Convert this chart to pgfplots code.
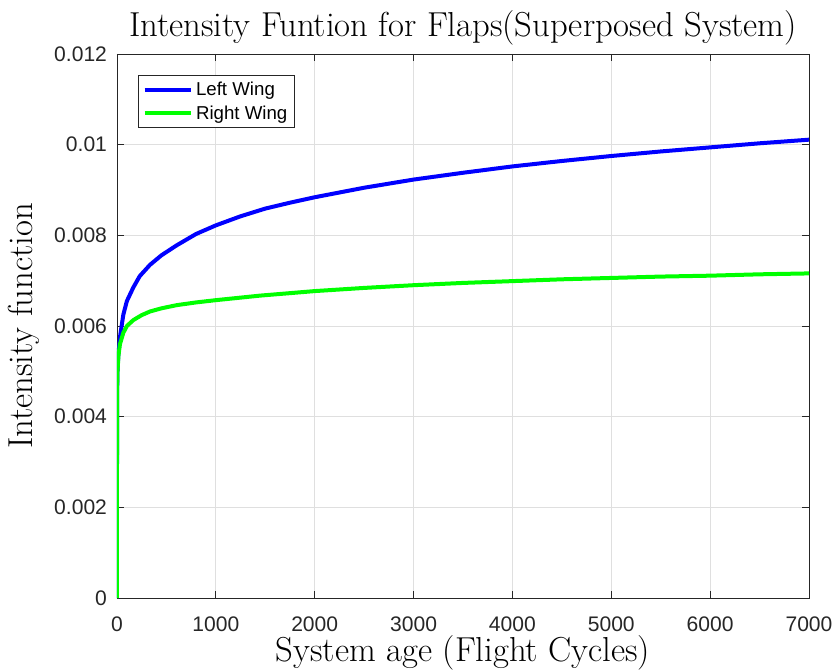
\documentclass[border=0pt]{standalone}
\usepackage{fontspec}
\usepackage{pgfplots}
\pgfplotsset{compat=1.18}
\newfontfamily\hv{Liberation Sans}
\definecolor{gridc}{RGB}{223,223,223}
\definecolor{axc}{RGB}{38,38,38}
\begin{document}
\begin{tikzpicture}
\begin{axis}[
  scale only axis,
  width=519pt, height=408pt,
  xmin=0, xmax=7000, ymin=0, ymax=0.012,
  scaled y ticks=false, scaled x ticks=false,
  xtick={0,1000,2000,3000,4000,5000,6000,7000},
  xticklabels={0,1000,2000,3000,4000,5000,6000,7000},
  ytick={0,0.002,0.004,0.006,0.008,0.01,0.012},
  yticklabels={0,0.002,0.004,0.006,0.008,0.01,0.012},
  tick label style={font=\hv\fontsize{15.8}{17}\selectfont, text=axc},
  xticklabel style={anchor=base, yshift=-24.75pt},
  yticklabel style={anchor=east, xshift=-4pt},
  grid=major,
  major grid style={gridc, line width=0.6pt},
  axis line style={axc, line width=0.6pt},
  tick style={axc, line width=0.6pt},
  major tick length=5pt,
  tick align=inside,
  title={Intensity Funtion for Flaps(Superposed System)},
  title style={font=\fontsize{26}{28}\selectfont, at={(rel axis cs:0.5,1)}, anchor=base, yshift=6.75pt},
  xlabel={System age (Flight Cycles)},
  ylabel={Intensity function},
  label style={font=\fontsize{26}{28}\selectfont},
  xlabel style={at={(rel axis cs:0.5,0)}, anchor=base, yshift=-47.75pt},
  ylabel style={at={(rel axis cs:0,0.5)}, anchor=center, yshift=69.75pt},
  legend style={at={(rel axis cs:0.0308,0.9614)}, anchor=north west, font=\hv\fontsize{14}{16}\selectfont,
    draw=axc, line width=0.6pt, inner xsep=3pt, inner ysep=3pt, row sep=2pt,
    nodes={inner sep=2pt, text depth=0.15em}},
  legend cell align=left,
  legend image code/.code={\draw[#1, line width=3pt] (0pt,0pt) -- (35pt,0pt);},
]
\addplot[blue, line width=3pt] coordinates {
(0,0) (0.001,0.0028) (0.1,0.0039) (1,0.0045) (5,0.0050) (13,0.00535) (33,0.00580)
(64,0.00625) (100,0.00655) (165,0.00685) (230,0.00710) (334,0.00735) (450,0.00756)
(604,0.00778) (800,0.00803) (1000,0.00822) (1250,0.00842) (1500,0.00859) (1750,0.00872)
(2000,0.00884) (2500,0.00905) (3000,0.00923) (3500,0.00938) (4000,0.00952) (4500,0.00964)
(5000,0.00975) (5500,0.00985) (6000,0.00994) (6500,0.01003) (7000,0.01011)
};
\addlegendentry{Left Wing}
\addplot[color={rgb,255:red,0;green,255;blue,0}, line width=3pt] coordinates {
(0,0) (0.001,0.0030) (0.1,0.0041) (1,0.0046) (5,0.0050) (15,0.00535) (30,0.0056)
(64,0.00585) (100,0.00600) (165,0.00613) (250,0.00624) (334,0.00632) (450,0.00639)
(604,0.00646) (800,0.00652) (1000,0.00657) (1447,0.00667) (2000,0.00677) (2500,0.00684)
(3000,0.00690) (3500,0.00695) (4000,0.00699) (4500,0.00703) (5000,0.00706)
(5500,0.00709) (6000,0.00711) (6500,0.00714) (7000,0.00716)
};
\addlegendentry{Right Wing}
\end{axis}
\pgfresetboundingbox
\path ([xshift=-87.75pt,yshift=-54.75pt]current axis.south west)
      ([xshift=19.5pt,yshift=40.5pt]current axis.north east);
\end{tikzpicture}
\end{document}
